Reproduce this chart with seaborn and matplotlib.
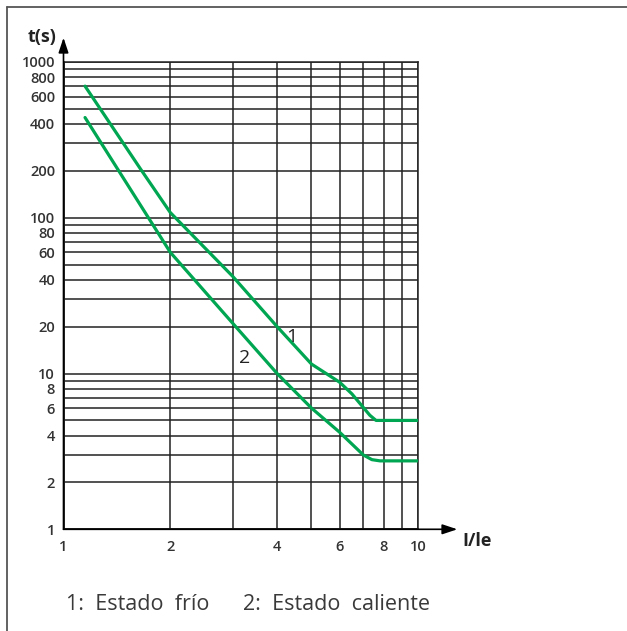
import matplotlib
matplotlib.use("Agg")
import matplotlib.pyplot as plt
import seaborn as sns
import pandas as pd
from matplotlib.lines import Line2D
from matplotlib.ticker import NullFormatter

sns.set_style("white")
plt.rcParams["font.family"] = ["Open Sans", "DejaVu Sans"]

# curva 1: estado frío
cold_x = [1.15, 1.65, 2.0, 3.0, 4.0, 5.0, 6.0, 6.5, 7.3, 7.6, 10.0]
cold_y = [700, 205, 108, 42, 20, 11.5, 8.8, 7.4, 5.4, 5.0, 5.0]
# curva 2: estado caliente
hot_x = [1.15, 2.0, 3.0, 4.0, 5.0, 6.0, 7.0, 7.4, 7.8, 10.0]
hot_y = [440, 60, 21, 10, 6.0, 4.2, 3.0, 2.8, 2.75, 2.75]

x_ticks = [1, 2, 4, 6, 8, 10]
y_ticks = [1, 2, 4, 6, 8, 10, 20, 40, 60, 80, 100, 200, 400, 600, 800, 1000]
legend_1 = "1:  Estado  frío"
legend_2 = "2:  Estado  caliente"

green = "#00a651"
ink = "#222222"

fig = plt.figure(figsize=(6.27, 6.31), dpi=100)
ax = fig.add_axes([63.5 / 627, 101.7 / 631, 354.8 / 627, 467.3 / 631])

df_cold = pd.DataFrame({"x": cold_x, "y": cold_y})
df_hot = pd.DataFrame({"x": hot_x, "y": hot_y})
sns.lineplot(data=df_cold, x="x", y="y", sort=False, color=green, lw=2.3, ax=ax, zorder=3)
sns.lineplot(data=df_hot, x="x", y="y", sort=False, color=green, lw=2.3, ax=ax, zorder=3)

ax.set_xscale("log")
ax.set_yscale("log")
ax.set_xlim(1, 10)
ax.set_ylim(1, 1000)

ax.grid(True, which="both", color=ink, lw=1.1)
ax.set_axisbelow(True)
for s in ax.spines.values():
    s.set_color(ink)
    s.set_linewidth(1.1)

ax.set_xticks(x_ticks)
ax.set_xticklabels([str(v) for v in x_ticks])
ax.set_yticks(y_ticks)
ax.set_yticklabels([str(v) for v in y_ticks])
ax.minorticks_on()
ax.xaxis.set_minor_formatter(NullFormatter())
ax.yaxis.set_minor_formatter(NullFormatter())
ax.tick_params(which="both", length=0)
ax.tick_params(axis="y", pad=6)
ax.tick_params(axis="x", pad=8)
for lab in ax.get_xticklabels() + ax.get_yticklabels():
    lab.set_fontweight("semibold")
    lab.set_fontsize(10.5)
    lab.set_color("#333333")
ax.set_xlabel("")
ax.set_ylabel("")

# ejes con flecha
ax.annotate("", xy=(0, 1.052), xytext=(0, 0), xycoords="axes fraction",
            arrowprops=dict(arrowstyle="-|>,head_length=0.9,head_width=0.3",
                            color="black", lw=1.2, shrinkA=0, shrinkB=0),
            annotation_clip=False)
ax.annotate("", xy=(1.11, 0), xytext=(0, 0), xycoords="axes fraction",
            arrowprops=dict(arrowstyle="-|>,head_length=0.9,head_width=0.3",
                            color="black", lw=1.2, shrinkA=0, shrinkB=0),
            annotation_clip=False)

fig.text(42 / 627, 1 - 37 / 631, "t(s)", ha="center", va="center",
         fontsize=13, fontweight="bold", color="#222222")
fig.text(477 / 627, 1 - 541 / 631, "I/le", ha="center", va="center",
         fontsize=13, fontweight="bold", color="#222222")

ax.text(4.41, 17.2, "1", fontsize=14, color="#222222", ha="center", va="center")
ax.text(3.23, 12.6, "2", fontsize=14, color="#222222", ha="center", va="center")

fig.text(66 / 627, 1 - 605 / 631, legend_1, ha="left", va="center",
         fontsize=15.5, color="#3a3a3a")
fig.text(243 / 627, 1 - 605 / 631, legend_2, ha="left", va="center",
         fontsize=15.5, color="#3a3a3a")

# marco
fig.add_artist(Line2D([7 / 627, 7 / 627], [0, 1 - 7 / 631], color="#555555", lw=1.3))
fig.add_artist(Line2D([7 / 627, 1], [1 - 7 / 631, 1 - 7 / 631], color="#555555", lw=1.3))

fig.savefig("out.png", dpi=100)
